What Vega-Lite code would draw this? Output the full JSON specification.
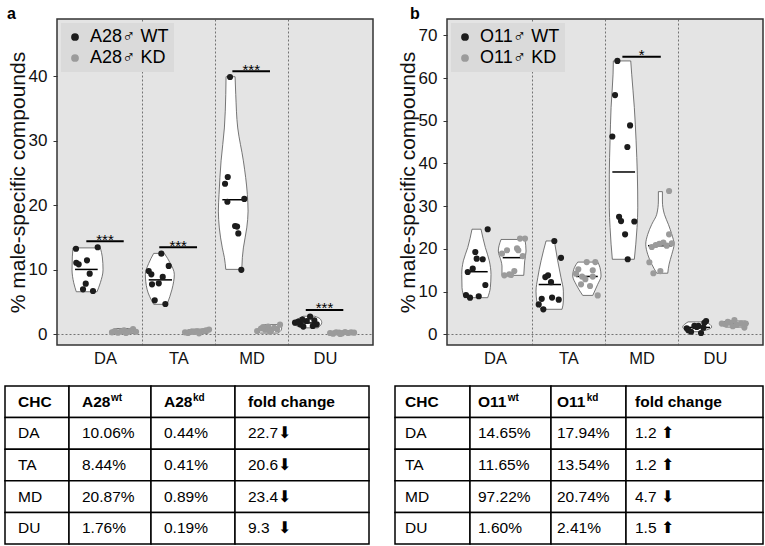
{
  "$schema": "https://vega.github.io/schema/vega-lite/v6.json",
  "padding": {"left": 4, "top": 5, "right": 0, "bottom": 0},
  "background": "white",
  "config": {
    "font": "Liberation Sans",
    "view": {"stroke": null},
    "axis": {"labelFont": "Liberation Sans", "titleFont": "Liberation Sans"},
    "legend": {"labelFont": "Liberation Sans"},
    "title": {"font": "Liberation Sans"}
  },
  "datasets": {
    "vioA": [
      {"id": "DAw", "v": 6.6, "xl": 0.608, "xr": 0.891},
      {"id": "DAw", "v": 8.0, "xl": 0.573, "xr": 0.936},
      {"id": "DAw", "v": 10.0, "xl": 0.55, "xr": 0.973},
      {"id": "DAw", "v": 12.0, "xl": 0.554, "xr": 0.963},
      {"id": "DAw", "v": 13.4, "xl": 0.563, "xr": 0.936},
      {"id": "DAk", "v": 0.15, "xl": 1.15, "xr": 1.4},
      {"id": "DAk", "v": 0.5, "xl": 1.08, "xr": 1.43},
      {"id": "DAk", "v": 0.9, "xl": 1.15, "xr": 1.4},
      {"id": "TAw", "v": 4.65, "xl": 1.664, "xr": 1.846},
      {"id": "TAw", "v": 7.0, "xl": 1.573, "xr": 1.914},
      {"id": "TAw", "v": 9.3, "xl": 1.55, "xr": 1.945},
      {"id": "TAw", "v": 11.0, "xl": 1.596, "xr": 1.891},
      {"id": "TAw", "v": 12.55, "xl": 1.664, "xr": 1.809},
      {"id": "TAk", "v": 0.15, "xl": 2.16, "xr": 2.4},
      {"id": "TAk", "v": 0.45, "xl": 2.09, "xr": 2.43},
      {"id": "TAk", "v": 0.8, "xl": 2.18, "xr": 2.4},
      {"id": "MDw", "v": 10.07, "xl": 2.647, "xr": 2.865},
      {"id": "MDw", "v": 11.9, "xl": 2.628, "xr": 2.873},
      {"id": "MDw", "v": 13.4, "xl": 2.6, "xr": 2.887},
      {"id": "MDw", "v": 16.5, "xl": 2.559, "xr": 2.933},
      {"id": "MDw", "v": 19.1, "xl": 2.546, "xr": 2.951},
      {"id": "MDw", "v": 21.7, "xl": 2.555, "xr": 2.941},
      {"id": "MDw", "v": 26.9, "xl": 2.583, "xr": 2.887},
      {"id": "MDw", "v": 32.0, "xl": 2.628, "xr": 2.81},
      {"id": "MDw", "v": 37.2, "xl": 2.647, "xr": 2.783},
      {"id": "MDw", "v": 39.95, "xl": 2.651, "xr": 2.774},
      {"id": "MDk", "v": 0.2, "xl": 3.12, "xr": 3.36},
      {"id": "MDk", "v": 0.6, "xl": 3.07, "xr": 3.4},
      {"id": "MDk", "v": 1.0, "xl": 3.1, "xr": 3.41},
      {"id": "MDk", "v": 1.5, "xl": 3.18, "xr": 3.35},
      {"id": "DUw", "v": 1.0, "xl": 3.688, "xr": 3.906},
      {"id": "DUw", "v": 1.8, "xl": 3.555, "xr": 3.956},
      {"id": "DUw", "v": 2.4, "xl": 3.633, "xr": 3.933},
      {"id": "DUw", "v": 2.8, "xl": 3.701, "xr": 3.86},
      {"id": "DUk", "v": 0.05, "xl": 4.1, "xr": 4.38},
      {"id": "DUk", "v": 0.25, "xl": 4.07, "xr": 4.4},
      {"id": "DUk", "v": 0.5, "xl": 4.12, "xr": 4.36}
    ],
    "medA": [
      {"xl": 0.591, "xr": 0.9, "v": 10.06},
      {"xl": 1.12, "xr": 1.4, "v": 0.44},
      {"xl": 1.596, "xr": 1.914, "v": 8.44},
      {"xl": 2.12, "xr": 2.4, "v": 0.41},
      {"xl": 2.6, "xr": 2.933, "v": 20.87},
      {"xl": 3.1, "xr": 3.38, "v": 0.89},
      {"xl": 3.579, "xr": 3.906, "v": 1.76},
      {"xl": 4.1, "xr": 4.38, "v": 0.19}
    ],
    "sigA": [
      {"xl": 0.745, "xr": 1.255, "xm": 1.0, "v": 14.45, "lab": "***"},
      {"xl": 1.74, "xr": 2.255, "xm": 1.998, "v": 13.5, "lab": "***"},
      {"xl": 2.737, "xr": 3.25, "xm": 2.994, "v": 40.8, "lab": "***"},
      {"xl": 3.738, "xr": 4.25, "xm": 3.994, "v": 3.77, "lab": "***"}
    ],
    "ptsA": [
      {"g": "A28♂ WT", "x": 0.604, "v": 13.27}, {"g": "A28♂ WT", "x": 0.9, "v": 13.5}, {"g": "A28♂ WT", "x": 0.754, "v": 11.47},
      {"g": "A28♂ WT", "x": 0.608, "v": 11.1}, {"g": "A28♂ WT", "x": 0.641, "v": 10.85}, {"g": "A28♂ WT", "x": 0.791, "v": 9.4},
      {"g": "A28♂ WT", "x": 0.737, "v": 7.85}, {"g": "A28♂ WT", "x": 0.7, "v": 6.97}, {"g": "A28♂ WT", "x": 0.836, "v": 6.71},
      {"g": "A28♂ KD", "x": 1.095, "v": 0.3}, {"g": "A28♂ KD", "x": 1.136, "v": 0.5}, {"g": "A28♂ KD", "x": 1.177, "v": 0.25},
      {"g": "A28♂ KD", "x": 1.218, "v": 0.45}, {"g": "A28♂ KD", "x": 1.259, "v": 0.6}, {"g": "A28♂ KD", "x": 1.3, "v": 0.35},
      {"g": "A28♂ KD", "x": 1.341, "v": 0.5}, {"g": "A28♂ KD", "x": 1.382, "v": 0.8}, {"g": "A28♂ KD", "x": 1.423, "v": 0.4},
      {"g": "A28♂ KD", "x": 1.286, "v": 0.2},
      {"g": "A28♂ WT", "x": 1.768, "v": 12.5}, {"g": "A28♂ WT", "x": 1.869, "v": 10.6}, {"g": "A28♂ WT", "x": 1.596, "v": 9.8},
      {"g": "A28♂ WT", "x": 1.632, "v": 9.3}, {"g": "A28♂ WT", "x": 1.787, "v": 8.9}, {"g": "A28♂ WT", "x": 1.641, "v": 7.75},
      {"g": "A28♂ WT", "x": 1.733, "v": 7.9}, {"g": "A28♂ WT", "x": 1.678, "v": 5.27}, {"g": "A28♂ WT", "x": 1.823, "v": 4.7},
      {"g": "A28♂ KD", "x": 2.091, "v": 0.3}, {"g": "A28♂ KD", "x": 2.132, "v": 0.2}, {"g": "A28♂ KD", "x": 2.173, "v": 0.4},
      {"g": "A28♂ KD", "x": 2.214, "v": 0.35}, {"g": "A28♂ KD", "x": 2.255, "v": 0.45}, {"g": "A28♂ KD", "x": 2.296, "v": 0.3},
      {"g": "A28♂ KD", "x": 2.337, "v": 0.5}, {"g": "A28♂ KD", "x": 2.378, "v": 0.6}, {"g": "A28♂ KD", "x": 2.419, "v": 0.75},
      {"g": "A28♂ KD", "x": 2.282, "v": 0.15},
      {"g": "A28♂ WT", "x": 2.705, "v": 39.9}, {"g": "A28♂ WT", "x": 2.674, "v": 24.4}, {"g": "A28♂ WT", "x": 2.637, "v": 23.35},
      {"g": "A28♂ WT", "x": 2.669, "v": 20.56}, {"g": "A28♂ WT", "x": 2.9, "v": 21.0}, {"g": "A28♂ WT", "x": 2.774, "v": 16.8},
      {"g": "A28♂ WT", "x": 2.801, "v": 16.7}, {"g": "A28♂ WT", "x": 2.818, "v": 15.65}, {"g": "A28♂ WT", "x": 2.859, "v": 10.0},
      {"g": "A28♂ KD", "x": 3.074, "v": 0.5}, {"g": "A28♂ KD", "x": 3.128, "v": 0.9}, {"g": "A28♂ KD", "x": 3.183, "v": 0.7},
      {"g": "A28♂ KD", "x": 3.224, "v": 1.2}, {"g": "A28♂ KD", "x": 3.265, "v": 0.6}, {"g": "A28♂ KD", "x": 3.306, "v": 1.0},
      {"g": "A28♂ KD", "x": 3.347, "v": 0.8}, {"g": "A28♂ KD", "x": 3.387, "v": 1.5}, {"g": "A28♂ KD", "x": 3.251, "v": 0.4},
      {"g": "A28♂ KD", "x": 3.156, "v": 1.1},
      {"g": "A28♂ WT", "x": 3.797, "v": 2.73}, {"g": "A28♂ WT", "x": 3.592, "v": 1.8}, {"g": "A28♂ WT", "x": 3.66, "v": 1.55},
      {"g": "A28♂ WT", "x": 3.705, "v": 1.2}, {"g": "A28♂ WT", "x": 3.752, "v": 2.06}, {"g": "A28♂ WT", "x": 3.855, "v": 2.17},
      {"g": "A28♂ WT", "x": 3.888, "v": 1.55}, {"g": "A28♂ WT", "x": 3.637, "v": 1.96}, {"g": "A28♂ WT", "x": 3.834, "v": 1.29},
      {"g": "A28♂ WT", "x": 3.692, "v": 2.3},
      {"g": "A28♂ KD", "x": 4.07, "v": 0.2}, {"g": "A28♂ KD", "x": 4.111, "v": 0.1}, {"g": "A28♂ KD", "x": 4.152, "v": 0.3},
      {"g": "A28♂ KD", "x": 4.193, "v": 0.25}, {"g": "A28♂ KD", "x": 4.234, "v": 0.15}, {"g": "A28♂ KD", "x": 4.274, "v": 0.35},
      {"g": "A28♂ KD", "x": 4.315, "v": 0.2}, {"g": "A28♂ KD", "x": 4.356, "v": 0.3}, {"g": "A28♂ KD", "x": 4.397, "v": 0.25},
      {"g": "A28♂ KD", "x": 4.207, "v": 0.05}
    ],
    "vioB": [
      {"id": "DAw", "v": 8.57, "xl": 0.581, "xr": 0.9},
      {"id": "DAw", "v": 10.9, "xl": 0.55, "xr": 0.936},
      {"id": "DAw", "v": 14.0, "xl": 0.546, "xr": 0.945},
      {"id": "DAw", "v": 17.2, "xl": 0.568, "xr": 0.922},
      {"id": "DAw", "v": 20.3, "xl": 0.628, "xr": 0.868},
      {"id": "DAw", "v": 24.6, "xl": 0.686, "xr": 0.809},
      {"id": "DAk", "v": 13.8, "xl": 1.095, "xr": 1.392},
      {"id": "DAk", "v": 16.0, "xl": 1.095, "xr": 1.4},
      {"id": "DAk", "v": 17.2, "xl": 1.082, "xr": 1.405},
      {"id": "DAk", "v": 19.5, "xl": 1.045, "xr": 1.423},
      {"id": "DAk", "v": 22.2, "xl": 1.082, "xr": 1.409},
      {"id": "TAw", "v": 5.85, "xl": 1.628, "xr": 1.914},
      {"id": "TAw", "v": 7.8, "xl": 1.569, "xr": 1.932},
      {"id": "TAw", "v": 10.1, "xl": 1.559, "xr": 1.932},
      {"id": "TAw", "v": 13.25, "xl": 1.583, "xr": 1.9},
      {"id": "TAw", "v": 17.2, "xl": 1.628, "xr": 1.855},
      {"id": "TAw", "v": 21.85, "xl": 1.696, "xr": 1.809},
      {"id": "TAk", "v": 9.1, "xl": 2.196, "xr": 2.333},
      {"id": "TAk", "v": 11.7, "xl": 2.105, "xr": 2.401},
      {"id": "TAk", "v": 13.65, "xl": 2.06, "xr": 2.446},
      {"id": "TAk", "v": 15.6, "xl": 2.082, "xr": 2.432},
      {"id": "TAk", "v": 16.9, "xl": 2.128, "xr": 2.401},
      {"id": "MDw", "v": 17.56, "xl": 2.6, "xr": 2.9},
      {"id": "MDw", "v": 21.1, "xl": 2.583, "xr": 2.92},
      {"id": "MDw", "v": 25.0, "xl": 2.569, "xr": 2.937},
      {"id": "MDw", "v": 29.6, "xl": 2.559, "xr": 2.947},
      {"id": "MDw", "v": 37.5, "xl": 2.559, "xr": 2.941},
      {"id": "MDw", "v": 45.3, "xl": 2.569, "xr": 2.924},
      {"id": "MDw", "v": 53.1, "xl": 2.583, "xr": 2.9},
      {"id": "MDw", "v": 60.9, "xl": 2.61, "xr": 2.864},
      {"id": "MDw", "v": 64.0, "xl": 2.614, "xr": 2.851},
      {"id": "MDk", "v": 14.3, "xl": 3.206, "xr": 3.356},
      {"id": "MDk", "v": 16.4, "xl": 3.138, "xr": 3.374},
      {"id": "MDk", "v": 18.7, "xl": 3.083, "xr": 3.411},
      {"id": "MDk", "v": 21.1, "xl": 3.056, "xr": 3.442},
      {"id": "MDk", "v": 23.4, "xl": 3.083, "xr": 3.411},
      {"id": "MDk", "v": 25.75, "xl": 3.138, "xr": 3.364},
      {"id": "MDk", "v": 28.1, "xl": 3.206, "xr": 3.31},
      {"id": "MDk", "v": 31.2, "xl": 3.228, "xr": 3.283},
      {"id": "MDk", "v": 33.4, "xl": 3.228, "xr": 3.283},
      {"id": "DUw", "v": 0.6, "xl": 3.66, "xr": 3.797},
      {"id": "DUw", "v": 1.7, "xl": 3.56, "xr": 3.956},
      {"id": "DUw", "v": 2.9, "xl": 3.633, "xr": 3.879},
      {"id": "DUk", "v": 1.7, "xl": 4.152, "xr": 4.371},
      {"id": "DUk", "v": 2.5, "xl": 4.07, "xr": 4.456},
      {"id": "DUk", "v": 3.1, "xl": 4.152, "xr": 4.412}
    ],
    "medB": [
      {"xl": 0.614, "xr": 0.9, "v": 14.65},
      {"xl": 1.105, "xr": 1.355, "v": 17.94},
      {"xl": 1.596, "xr": 1.9, "v": 11.65},
      {"xl": 2.105, "xr": 2.401, "v": 13.54},
      {"xl": 2.6, "xr": 2.91, "v": 38.0},
      {"xl": 3.087, "xr": 3.415, "v": 20.74},
      {"xl": 3.578, "xr": 3.933, "v": 1.6},
      {"xl": 4.097, "xr": 4.425, "v": 2.41}
    ],
    "sigB": [
      {"xl": 2.737, "xr": 3.261, "xm": 2.999, "v": 65.0, "lab": "*"}
    ],
    "ptsB": [
      {"g": "O11♂ WT", "x": 0.9, "v": 24.6}, {"g": "O11♂ WT", "x": 0.731, "v": 19.27}, {"g": "O11♂ WT", "x": 0.75, "v": 17.7},
      {"g": "O11♂ WT", "x": 0.832, "v": 17.56}, {"g": "O11♂ WT", "x": 0.696, "v": 15.36}, {"g": "O11♂ WT", "x": 0.628, "v": 14.58},
      {"g": "O11♂ WT", "x": 0.868, "v": 11.54}, {"g": "O11♂ WT", "x": 0.604, "v": 9.2}, {"g": "O11♂ WT", "x": 0.659, "v": 8.57},
      {"g": "O11♂ WT", "x": 0.778, "v": 8.9},
      {"g": "O11♂ KD", "x": 1.341, "v": 22.4}, {"g": "O11♂ KD", "x": 1.409, "v": 22.4}, {"g": "O11♂ KD", "x": 1.164, "v": 19.67},
      {"g": "O11♂ KD", "x": 1.095, "v": 18.9}, {"g": "O11♂ KD", "x": 1.3, "v": 20.1}, {"g": "O11♂ KD", "x": 1.318, "v": 19.67},
      {"g": "O11♂ KD", "x": 1.378, "v": 18.3}, {"g": "O11♂ KD", "x": 1.127, "v": 13.8}, {"g": "O11♂ KD", "x": 1.195, "v": 14.05},
      {"g": "O11♂ KD", "x": 1.263, "v": 14.8}, {"g": "O11♂ KD", "x": 1.218, "v": 13.9},
      {"g": "O11♂ WT", "x": 1.809, "v": 21.85}, {"g": "O11♂ WT", "x": 1.9, "v": 17.9}, {"g": "O11♂ WT", "x": 1.686, "v": 13.4},
      {"g": "O11♂ WT", "x": 1.723, "v": 13.8}, {"g": "O11♂ WT", "x": 1.764, "v": 12.2}, {"g": "O11♂ WT", "x": 1.637, "v": 8.3},
      {"g": "O11♂ WT", "x": 1.778, "v": 8.6}, {"g": "O11♂ WT", "x": 1.869, "v": 8.1}, {"g": "O11♂ WT", "x": 1.596, "v": 7.0},
      {"g": "O11♂ WT", "x": 1.659, "v": 5.85},
      {"g": "O11♂ KD", "x": 2.251, "v": 16.9}, {"g": "O11♂ KD", "x": 2.368, "v": 16.9}, {"g": "O11♂ KD", "x": 2.136, "v": 15.2},
      {"g": "O11♂ KD", "x": 2.333, "v": 15.0}, {"g": "O11♂ KD", "x": 2.187, "v": 13.5}, {"g": "O11♂ KD", "x": 2.232, "v": 12.9},
      {"g": "O11♂ KD", "x": 2.333, "v": 13.5}, {"g": "O11♂ KD", "x": 2.173, "v": 11.7}, {"g": "O11♂ KD", "x": 2.296, "v": 11.3},
      {"g": "O11♂ KD", "x": 2.401, "v": 9.1}, {"g": "O11♂ KD", "x": 2.105, "v": 14.2},
      {"g": "O11♂ WT", "x": 2.669, "v": 64.0}, {"g": "O11♂ WT", "x": 2.637, "v": 56.0}, {"g": "O11♂ WT", "x": 2.842, "v": 48.9},
      {"g": "O11♂ WT", "x": 2.6, "v": 46.3}, {"g": "O11♂ WT", "x": 2.805, "v": 43.85}, {"g": "O11♂ WT", "x": 2.692, "v": 27.5},
      {"g": "O11♂ WT", "x": 2.719, "v": 26.5}, {"g": "O11♂ WT", "x": 2.9, "v": 26.4}, {"g": "O11♂ WT", "x": 2.774, "v": 23.4},
      {"g": "O11♂ WT", "x": 2.81, "v": 17.56},
      {"g": "O11♂ KD", "x": 3.374, "v": 33.55}, {"g": "O11♂ KD", "x": 3.374, "v": 23.4}, {"g": "O11♂ KD", "x": 3.138, "v": 20.44},
      {"g": "O11♂ KD", "x": 3.192, "v": 20.9}, {"g": "O11♂ KD", "x": 3.241, "v": 21.2}, {"g": "O11♂ KD", "x": 3.296, "v": 21.45},
      {"g": "O11♂ KD", "x": 3.342, "v": 20.75}, {"g": "O11♂ KD", "x": 3.411, "v": 21.3}, {"g": "O11♂ KD", "x": 3.105, "v": 16.86},
      {"g": "O11♂ KD", "x": 3.16, "v": 14.28}, {"g": "O11♂ KD", "x": 3.255, "v": 14.8},
      {"g": "O11♂ WT", "x": 3.615, "v": 1.4}, {"g": "O11♂ WT", "x": 3.674, "v": 0.6}, {"g": "O11♂ WT", "x": 3.719, "v": 1.95},
      {"g": "O11♂ WT", "x": 3.752, "v": 1.7}, {"g": "O11♂ WT", "x": 3.81, "v": 0.3}, {"g": "O11♂ WT", "x": 3.855, "v": 2.7},
      {"g": "O11♂ WT", "x": 3.879, "v": 3.1}, {"g": "O11♂ WT", "x": 3.842, "v": 1.55}, {"g": "O11♂ WT", "x": 3.774, "v": 1.95},
      {"g": "O11♂ WT", "x": 3.637, "v": 0.94},
      {"g": "O11♂ KD", "x": 4.093, "v": 2.5}, {"g": "O11♂ KD", "x": 4.147, "v": 2.33}, {"g": "O11♂ KD", "x": 4.206, "v": 2.7},
      {"g": "O11♂ KD", "x": 4.265, "v": 3.35}, {"g": "O11♂ KD", "x": 4.297, "v": 2.2}, {"g": "O11♂ KD", "x": 4.356, "v": 2.5},
      {"g": "O11♂ KD", "x": 4.401, "v": 1.56}, {"g": "O11♂ KD", "x": 4.42, "v": 2.5}, {"g": "O11♂ KD", "x": 4.243, "v": 1.9},
      {"g": "O11♂ KD", "x": 4.175, "v": 2.9}
    ],
    "tabA": [
      {"row": "hdr", "c1": "CHC", "c2": "A28", "c2s": "wt", "c3": "A28", "c3s": "kd", "c4": "fold change"},
      {"row": "DA", "c1": "DA", "c2": "10.06%", "c3": "0.44%", "c4": "22.7⬇"},
      {"row": "TA", "c1": "TA", "c2": "8.44%", "c3": "0.41%", "c4": "20.6⬇"},
      {"row": "MD", "c1": "MD", "c2": "20.87%", "c3": "0.89%", "c4": "23.4⬇"},
      {"row": "DU", "c1": "DU", "c2": "1.76%", "c3": "0.19%", "c4": "9.3\u00a0\u00a0⬇"}
    ],
    "tabB": [
      {"row": "hdr", "c1": "CHC", "c2": "O11", "c2s": "wt", "c3": "O11", "c3s": "kd", "c4": "fold change"},
      {"row": "DA", "c1": "DA", "c2": "14.65%", "c3": "17.94%", "c4": "1.2 ⬆"},
      {"row": "TA", "c1": "TA", "c2": "11.65%", "c3": "13.54%", "c4": "1.2 ⬆"},
      {"row": "MD", "c1": "MD", "c2": "97.22%", "c3": "20.74%", "c4": "4.7 ⬇"},
      {"row": "DU", "c1": "DU", "c2": "1.60%", "c3": "2.41%", "c4": "1.5 ⬆"}
    ],
    "blank": [{"k": 0}]
  },
  "resolve": {"scale": {"x": "independent", "y": "independent", "color": "independent"}},
  "spacing": 17,
  "vconcat": [
    {
      "spacing": 22,
      "resolve": {"scale": {"x": "independent", "y": "independent", "color": "independent"}},
      "hconcat": [
        {
          "spacing": 0,
          "resolve": {"scale": {"x": "independent", "y": "independent", "color": "independent"}},
          "hconcat": [
            {"width": 1, "height": 1, "data": {"name": "blank"}, "transform": [{"filter": "datum.k > 5"}], "mark": {"type": "point", "opacity": 0}, "encoding": {}},
            {
              "width": 316, "height": 326,
              "title": {"text": "a", "anchor": "start", "frame": "bounds", "fontSize": 16, "fontWeight": "bold", "offset": 0, "dy": 3, "color": "black"},
              "view": {"fill": "#e4e4e4", "stroke": "#333333", "strokeWidth": 1.5},
              "layer": [
                {
                  "data": {"name": "vioA"},
                  "mark": {"type": "area", "orient": "horizontal", "interpolate": "monotone", "fill": "white", "stroke": "#555555", "strokeWidth": 0.8},
                  "encoding": {
                    "detail": {"field": "id"},
                    "y": {"field": "v", "type": "quantitative", "scale": {"domain": [-1.66, 48.9], "nice": false, "zero": false}},
                    "x": {"field": "xl", "type": "quantitative", "stack": null, "scale": {"domain": [0.345, 4.655], "nice": false, "zero": false}},
                    "x2": {"field": "xr"}
                  }
                },
                {
                  "data": {"name": "medA"},
                  "mark": {"type": "rule", "color": "black", "strokeWidth": 1.5},
                  "encoding": {
                    "y": {"field": "v", "type": "quantitative"},
                    "x": {"field": "xl", "type": "quantitative"},
                    "x2": {"field": "xr"}
                  }
                },
                {
                  "data": {"name": "ptsA"},
                  "mark": {"type": "circle", "size": 38, "opacity": 1},
                  "encoding": {
                    "y": {"field": "v", "type": "quantitative",
                      "axis": {"values": [0, 10, 20, 30, 40], "title": "% male-specific compounds", "titleFontSize": 21, "titleFontWeight": "normal", "titleColor": "#111111", "titlePadding": 0,
                        "labelFontSize": 17, "labelColor": "#111111", "labelPadding": 6, "tickSize": 4, "tickColor": "#333333", "domain": false,
                        "grid": true, "gridDash": [2, 2], "gridColor": "#555555", "gridWidth": 0.8,
                        "gridOpacity": {"condition": {"test": "datum.value === 0", "value": 1}, "value": 0}}},
                    "x": {"field": "x", "type": "quantitative",
                      "axis": {"values": [1.5, 2.5, 3.5, 4.5], "labelExpr": "datum.value < 2 ? 'DA' : datum.value < 3 ? 'TA' : datum.value < 4 ? 'MD' : 'DU'",
                        "labelOffset": -36.66, "labelFlush": false, "title": null, "ticks": false, "domain": false, "labelFontSize": 16.5, "labelColor": "#111111", "labelPadding": 5,
                        "grid": true, "gridDash": [2, 2], "gridColor": "#555555", "gridWidth": 0.8,
                        "gridOpacity": {"condition": {"test": "datum.value > 4", "value": 0}, "value": 1}}},
                    "color": {"field": "g", "type": "nominal",
                      "scale": {"domain": ["A28♂ WT", "A28♂ KD"], "range": ["#1c1c1c", "#9b9b9b"]},
                      "legend": {"title": null, "orient": "top-left", "offset": 4, "padding": 5, "fillColor": "#dadada", "labelFontSize": 18, "symbolSize": 60,
                        "symbolType": "circle", "rowPadding": 3, "labelOffset": 6, "symbolStrokeWidth": 0,
                        "encode": {"labels": {"update": {"fill": {"signal": "datum.value === 'A28♂ WT' ? '#1c1c1c' : '#8c8c8c'"}}}}}}
                  }
                },
                {
                  "data": {"name": "sigA"},
                  "mark": {"type": "rule", "color": "black", "strokeWidth": 2},
                  "encoding": {
                    "y": {"field": "v", "type": "quantitative"},
                    "x": {"field": "xl", "type": "quantitative"},
                    "x2": {"field": "xr"}
                  }
                },
                {
                  "data": {"name": "sigA"},
                  "mark": {"type": "text", "fontSize": 15, "dy": 3.5, "baseline": "alphabetic", "color": "black", "fill": "black"},
                  "encoding": {
                    "y": {"field": "v", "type": "quantitative"},
                    "x": {"field": "xm", "type": "quantitative"},
                    "text": {"field": "lab", "type": "nominal"}
                  }
                }
              ]
            }
          ]
        },
        {
          "width": 316, "height": 326,
          "title": {"text": "b", "anchor": "start", "frame": "bounds", "fontSize": 16, "fontWeight": "bold", "offset": 0, "dy": 3, "dx": 13, "color": "black"},
          "view": {"fill": "#e4e4e4", "stroke": "#333333", "strokeWidth": 1.5},
          "layer": [
            {
              "data": {"name": "vioB"},
              "mark": {"type": "area", "orient": "horizontal", "interpolate": "monotone", "fill": "white", "stroke": "#555555", "strokeWidth": 0.8},
              "encoding": {
                "detail": {"field": "id"},
                "y": {"field": "v", "type": "quantitative", "scale": {"domain": [-2.51, 73.82], "nice": false, "zero": false}},
                "x": {"field": "xl", "type": "quantitative", "stack": null, "scale": {"domain": [0.345, 4.655], "nice": false, "zero": false}},
                "x2": {"field": "xr"}
              }
            },
            {
              "data": {"name": "medB"},
              "mark": {"type": "rule", "color": "black", "strokeWidth": 1.5},
              "encoding": {
                "y": {"field": "v", "type": "quantitative"},
                "x": {"field": "xl", "type": "quantitative"},
                "x2": {"field": "xr"}
              }
            },
            {
              "data": {"name": "ptsB"},
              "mark": {"type": "circle", "size": 38, "opacity": 1},
              "encoding": {
                "y": {"field": "v", "type": "quantitative",
                  "axis": {"values": [0, 10, 20, 30, 40, 50, 60, 70], "title": "% male-specific compounds", "titleFontSize": 21, "titleFontWeight": "normal", "titleColor": "#111111", "titlePadding": 0,
                    "labelFontSize": 17, "labelColor": "#111111", "labelPadding": 6, "tickSize": 4, "tickColor": "#333333", "domain": false,
                    "grid": true, "gridDash": [2, 2], "gridColor": "#555555", "gridWidth": 0.8,
                    "gridOpacity": {"condition": {"test": "datum.value === 0", "value": 1}, "value": 0}}},
                "x": {"field": "x", "type": "quantitative",
                  "axis": {"values": [1.5, 2.5, 3.5, 4.5], "labelExpr": "datum.value < 2 ? 'DA' : datum.value < 3 ? 'TA' : datum.value < 4 ? 'MD' : 'DU'",
                    "labelOffset": -36.66, "labelFlush": false, "title": null, "ticks": false, "domain": false, "labelFontSize": 16.5, "labelColor": "#111111", "labelPadding": 5,
                    "grid": true, "gridDash": [2, 2], "gridColor": "#555555", "gridWidth": 0.8,
                    "gridOpacity": {"condition": {"test": "datum.value > 4", "value": 0}, "value": 1}}},
                "color": {"field": "g", "type": "nominal",
                  "scale": {"domain": ["O11♂ WT", "O11♂ KD"], "range": ["#1c1c1c", "#9b9b9b"]},
                  "legend": {"title": null, "orient": "top-left", "offset": 4, "padding": 5, "fillColor": "#dadada", "labelFontSize": 18, "symbolSize": 60,
                    "symbolType": "circle", "rowPadding": 3, "labelOffset": 6, "symbolStrokeWidth": 0,
                    "encode": {"labels": {"update": {"fill": {"signal": "datum.value === 'O11♂ WT' ? '#1c1c1c' : '#8c8c8c'"}}}}}}
              }
            },
            {
              "data": {"name": "sigB"},
              "mark": {"type": "rule", "color": "black", "strokeWidth": 2},
              "encoding": {
                "y": {"field": "v", "type": "quantitative"},
                "x": {"field": "xl", "type": "quantitative"},
                "x2": {"field": "xr"}
              }
            },
            {
              "data": {"name": "sigB"},
              "mark": {"type": "text", "fontSize": 15, "dy": 3.5, "baseline": "alphabetic", "color": "black", "fill": "black"},
              "encoding": {
                "y": {"field": "v", "type": "quantitative"},
                "x": {"field": "xm", "type": "quantitative"},
                "text": {"field": "lab", "type": "nominal"}
              }
            }
          ]
        }
      ]
    },
    {
      "spacing": 24,
      "hconcat": [
        {
          "spacing": 0, "bounds": "flush",
          "hconcat": [
            {"width": 64, "height": 158, "data": {"name": "tabA"}, "layer": [
              {"mark": {"type": "rect", "fill": "white", "stroke": "black", "strokeWidth": 1.5},
               "encoding": {"y": {"field": "row", "type": "nominal", "sort": ["hdr", "DA", "TA", "MD", "DU"], "axis": null, "scale": {"paddingInner": 0, "paddingOuter": 0}}}},
              {"transform": [{"filter": "datum.row === 'hdr'"}], "mark": {"type": "text", "align": "left", "dx": -19, "fontSize": 15.5, "fontWeight": "bold", "color": "black"},
               "encoding": {"y": {"field": "row", "type": "nominal", "sort": ["hdr", "DA", "TA", "MD", "DU"], "axis": null}, "text": {"field": "c1", "type": "nominal"}}},
              {"transform": [{"filter": "datum.row !== 'hdr'"}], "mark": {"type": "text", "align": "left", "dx": -19, "fontSize": 15.5, "color": "black"},
               "encoding": {"y": {"field": "row", "type": "nominal", "sort": ["hdr", "DA", "TA", "MD", "DU"], "axis": null}, "text": {"field": "c1", "type": "nominal"}}}
            ]},
            {"width": 82, "height": 158, "data": {"name": "tabA"}, "layer": [
              {"mark": {"type": "rect", "fill": "white", "stroke": "black", "strokeWidth": 1.5},
               "encoding": {"y": {"field": "row", "type": "nominal", "sort": ["hdr", "DA", "TA", "MD", "DU"], "axis": null, "scale": {"paddingInner": 0, "paddingOuter": 0}}}},
              {"transform": [{"filter": "datum.row === 'hdr'"}], "mark": {"type": "text", "align": "left", "dx": -28, "fontSize": 15.5, "fontWeight": "bold", "color": "black"},
               "encoding": {"y": {"field": "row", "type": "nominal", "sort": ["hdr", "DA", "TA", "MD", "DU"], "axis": null}, "text": {"field": "c2", "type": "nominal"}}},
              {"transform": [{"filter": "datum.row === 'hdr'"}], "mark": {"type": "text", "align": "left", "dx": 1, "dy": -4, "fontSize": 10, "fontWeight": "bold", "color": "black"},
               "encoding": {"y": {"field": "row", "type": "nominal", "sort": ["hdr", "DA", "TA", "MD", "DU"], "axis": null}, "text": {"field": "c2s", "type": "nominal"}}},
              {"transform": [{"filter": "datum.row !== 'hdr'"}], "mark": {"type": "text", "align": "left", "dx": -28, "fontSize": 15.5, "color": "black"},
               "encoding": {"y": {"field": "row", "type": "nominal", "sort": ["hdr", "DA", "TA", "MD", "DU"], "axis": null}, "text": {"field": "c2", "type": "nominal"}}}
            ]},
            {"width": 84, "height": 158, "data": {"name": "tabA"}, "layer": [
              {"mark": {"type": "rect", "fill": "white", "stroke": "black", "strokeWidth": 1.5},
               "encoding": {"y": {"field": "row", "type": "nominal", "sort": ["hdr", "DA", "TA", "MD", "DU"], "axis": null, "scale": {"paddingInner": 0, "paddingOuter": 0}}}},
              {"transform": [{"filter": "datum.row === 'hdr'"}], "mark": {"type": "text", "align": "left", "dx": -29, "fontSize": 15.5, "fontWeight": "bold", "color": "black"},
               "encoding": {"y": {"field": "row", "type": "nominal", "sort": ["hdr", "DA", "TA", "MD", "DU"], "axis": null}, "text": {"field": "c3", "type": "nominal"}}},
              {"transform": [{"filter": "datum.row === 'hdr'"}], "mark": {"type": "text", "align": "left", "dx": 0, "dy": -4, "fontSize": 10, "fontWeight": "bold", "color": "black"},
               "encoding": {"y": {"field": "row", "type": "nominal", "sort": ["hdr", "DA", "TA", "MD", "DU"], "axis": null}, "text": {"field": "c3s", "type": "nominal"}}},
              {"transform": [{"filter": "datum.row !== 'hdr'"}], "mark": {"type": "text", "align": "left", "dx": -29, "fontSize": 15.5, "color": "black"},
               "encoding": {"y": {"field": "row", "type": "nominal", "sort": ["hdr", "DA", "TA", "MD", "DU"], "axis": null}, "text": {"field": "c3", "type": "nominal"}}}
            ]},
            {"width": 134, "height": 158, "data": {"name": "tabA"}, "layer": [
              {"mark": {"type": "rect", "fill": "white", "stroke": "black", "strokeWidth": 1.5},
               "encoding": {"y": {"field": "row", "type": "nominal", "sort": ["hdr", "DA", "TA", "MD", "DU"], "axis": null, "scale": {"paddingInner": 0, "paddingOuter": 0}}}},
              {"transform": [{"filter": "datum.row === 'hdr'"}], "mark": {"type": "text", "align": "left", "dx": -54, "fontSize": 15.5, "fontWeight": "bold", "color": "black"},
               "encoding": {"y": {"field": "row", "type": "nominal", "sort": ["hdr", "DA", "TA", "MD", "DU"], "axis": null}, "text": {"field": "c4", "type": "nominal"}}},
              {"transform": [{"filter": "datum.row !== 'hdr'"}], "mark": {"type": "text", "align": "left", "dx": -54, "fontSize": 15.5, "color": "black"},
               "encoding": {"y": {"field": "row", "type": "nominal", "sort": ["hdr", "DA", "TA", "MD", "DU"], "axis": null}, "text": {"field": "c4", "type": "nominal"}}}
            ]}
          ]
        },
        {
          "spacing": 0, "bounds": "flush",
          "hconcat": [
            {"width": 75, "height": 158, "data": {"name": "tabB"}, "layer": [
              {"mark": {"type": "rect", "fill": "white", "stroke": "black", "strokeWidth": 1.5},
               "encoding": {"y": {"field": "row", "type": "nominal", "sort": ["hdr", "DA", "TA", "MD", "DU"], "axis": null, "scale": {"paddingInner": 0, "paddingOuter": 0}}}},
              {"transform": [{"filter": "datum.row === 'hdr'"}], "mark": {"type": "text", "align": "left", "dx": -27.5, "fontSize": 15.5, "fontWeight": "bold", "color": "black"},
               "encoding": {"y": {"field": "row", "type": "nominal", "sort": ["hdr", "DA", "TA", "MD", "DU"], "axis": null}, "text": {"field": "c1", "type": "nominal"}}},
              {"transform": [{"filter": "datum.row !== 'hdr'"}], "mark": {"type": "text", "align": "left", "dx": -27.5, "fontSize": 15.5, "color": "black"},
               "encoding": {"y": {"field": "row", "type": "nominal", "sort": ["hdr", "DA", "TA", "MD", "DU"], "axis": null}, "text": {"field": "c1", "type": "nominal"}}}
            ]},
            {"width": 81, "height": 158, "data": {"name": "tabB"}, "layer": [
              {"mark": {"type": "rect", "fill": "white", "stroke": "black", "strokeWidth": 1.5},
               "encoding": {"y": {"field": "row", "type": "nominal", "sort": ["hdr", "DA", "TA", "MD", "DU"], "axis": null, "scale": {"paddingInner": 0, "paddingOuter": 0}}}},
              {"transform": [{"filter": "datum.row === 'hdr'"}], "mark": {"type": "text", "align": "left", "dx": -32.5, "fontSize": 15.5, "fontWeight": "bold", "color": "black"},
               "encoding": {"y": {"field": "row", "type": "nominal", "sort": ["hdr", "DA", "TA", "MD", "DU"], "axis": null}, "text": {"field": "c2", "type": "nominal"}}},
              {"transform": [{"filter": "datum.row === 'hdr'"}], "mark": {"type": "text", "align": "left", "dx": -2.7, "dy": -4, "fontSize": 10, "fontWeight": "bold", "color": "black"},
               "encoding": {"y": {"field": "row", "type": "nominal", "sort": ["hdr", "DA", "TA", "MD", "DU"], "axis": null}, "text": {"field": "c2s", "type": "nominal"}}},
              {"transform": [{"filter": "datum.row !== 'hdr'"}], "mark": {"type": "text", "align": "left", "dx": -32.5, "fontSize": 15.5, "color": "black"},
               "encoding": {"y": {"field": "row", "type": "nominal", "sort": ["hdr", "DA", "TA", "MD", "DU"], "axis": null}, "text": {"field": "c2", "type": "nominal"}}}
            ]},
            {"width": 75, "height": 158, "data": {"name": "tabB"}, "layer": [
              {"mark": {"type": "rect", "fill": "white", "stroke": "black", "strokeWidth": 1.5},
               "encoding": {"y": {"field": "row", "type": "nominal", "sort": ["hdr", "DA", "TA", "MD", "DU"], "axis": null, "scale": {"paddingInner": 0, "paddingOuter": 0}}}},
              {"transform": [{"filter": "datum.row === 'hdr'"}], "mark": {"type": "text", "align": "left", "dx": -31.5, "fontSize": 15.5, "fontWeight": "bold", "color": "black"},
               "encoding": {"y": {"field": "row", "type": "nominal", "sort": ["hdr", "DA", "TA", "MD", "DU"], "axis": null}, "text": {"field": "c3", "type": "nominal"}}},
              {"transform": [{"filter": "datum.row === 'hdr'"}], "mark": {"type": "text", "align": "left", "dx": -1.7, "dy": -4, "fontSize": 10, "fontWeight": "bold", "color": "black"},
               "encoding": {"y": {"field": "row", "type": "nominal", "sort": ["hdr", "DA", "TA", "MD", "DU"], "axis": null}, "text": {"field": "c3s", "type": "nominal"}}},
              {"transform": [{"filter": "datum.row !== 'hdr'"}], "mark": {"type": "text", "align": "left", "dx": -31.5, "fontSize": 15.5, "color": "black"},
               "encoding": {"y": {"field": "row", "type": "nominal", "sort": ["hdr", "DA", "TA", "MD", "DU"], "axis": null}, "text": {"field": "c3", "type": "nominal"}}}
            ]},
            {"width": 137, "height": 158, "data": {"name": "tabB"}, "layer": [
              {"mark": {"type": "rect", "fill": "white", "stroke": "black", "strokeWidth": 1.5},
               "encoding": {"y": {"field": "row", "type": "nominal", "sort": ["hdr", "DA", "TA", "MD", "DU"], "axis": null, "scale": {"paddingInner": 0, "paddingOuter": 0}}}},
              {"transform": [{"filter": "datum.row === 'hdr'"}], "mark": {"type": "text", "align": "left", "dx": -59.5, "fontSize": 15.5, "fontWeight": "bold", "color": "black"},
               "encoding": {"y": {"field": "row", "type": "nominal", "sort": ["hdr", "DA", "TA", "MD", "DU"], "axis": null}, "text": {"field": "c4", "type": "nominal"}}},
              {"transform": [{"filter": "datum.row !== 'hdr'"}], "mark": {"type": "text", "align": "left", "dx": -59.5, "fontSize": 15.5, "color": "black"},
               "encoding": {"y": {"field": "row", "type": "nominal", "sort": ["hdr", "DA", "TA", "MD", "DU"], "axis": null}, "text": {"field": "c4", "type": "nominal"}}}
            ]}
          ]
        }
      ]
    }
  ]
}
